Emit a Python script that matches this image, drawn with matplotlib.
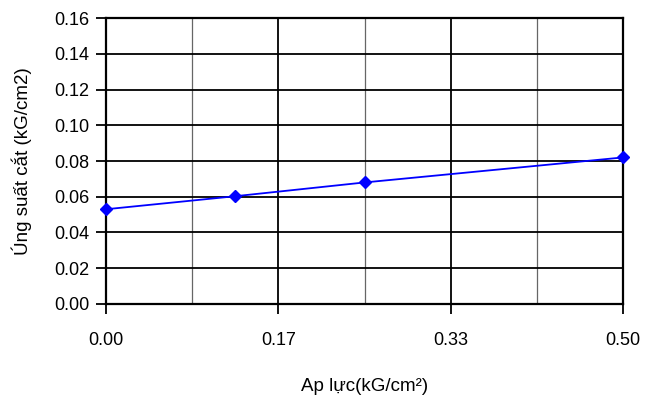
import numpy as np
import matplotlib
matplotlib.use("Agg")
import matplotlib.pyplot as plt
from matplotlib.ticker import MultipleLocator, FixedLocator

# data
ap_luc = [0.0, 0.125, 0.25, 0.5]
ung_suat = [0.053, 0.0603, 0.068, 0.082]
xticks = [0.0, 1/6, 1/3, 0.5]
xtick_labels = ["0.00", "0.17", "0.33", "0.50"]

plt.rcParams['font.family'] = ['Liberation Sans Narrow', 'Liberation Sans', 'DejaVu Sans']

fig = plt.figure(figsize=(6.58, 3.95), dpi=100)
ax = fig.add_axes([0.161, 0.2304, 0.786, 0.724])

ax.plot(ap_luc, ung_suat, color="blue", lw=1.3, marker="D", ms=6, clip_on=False, zorder=5)

ax.set_xlim(0, 0.5)
ax.set_ylim(0, 0.16)
ax.yaxis.set_major_locator(MultipleLocator(0.02))
ax.set_yticklabels(["%.2f" % v for v in ax.get_yticks()])
ax.xaxis.set_major_locator(FixedLocator(xticks))
ax.set_xticklabels(xtick_labels)
ax.xaxis.set_minor_locator(FixedLocator([1/12, 0.25, 5/12]))

ax.grid(True, which="major", axis="both", color="black", lw=1.3)
ax.grid(True, which="minor", axis="x", color="#666666", lw=0.9)
ax.tick_params(axis="x", which="minor", length=0)
ax.tick_params(axis="both", which="major", direction="out", length=7, width=1.3, labelsize=13)
ax.tick_params(axis="x", pad=13)
ax.tick_params(axis="y", pad=5)
for s in ax.spines.values():
    s.set_linewidth(1.6)

ax.set_xlabel("Ap lực(kG/cm²)", fontsize=13.5, labelpad=21)
ax.set_ylabel("Úng suất cắt (kG/cm2)", fontsize=13.5, labelpad=16)

fig.savefig("out.png", dpi=100)
